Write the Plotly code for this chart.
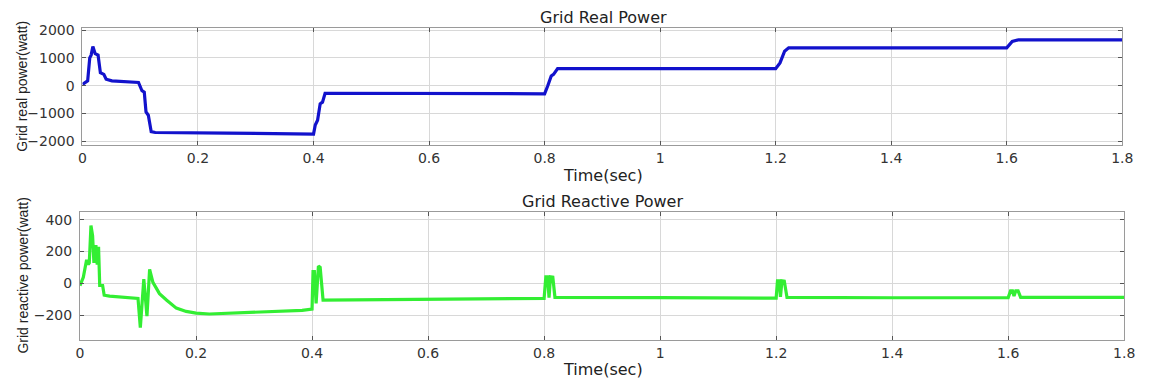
import plotly.graph_objects as go

W, H = 1153, 385

# ---- Grid real power (watt) ----
t_real = [0.0, 0.004, 0.009, 0.0126, 0.015, 0.018, 0.022, 0.027, 0.031, 0.037, 0.041, 0.051,
          0.075, 0.097, 0.103, 0.107, 0.110, 0.114, 0.119, 0.126, 0.25, 0.40,
          0.403, 0.407, 0.4115, 0.4155, 0.420, 0.60, 0.797, 0.800,
          0.8055, 0.8115, 0.8155, 0.8225, 1.0, 1.200,
          1.2075, 1.2115, 1.2155, 1.2225, 1.4, 1.600,
          1.6095, 1.6205, 1.8]
p_real = [50, 120, 175, 1000, 1100, 1410, 1150, 1100, 470, 410, 235, 175,
          150, 118, -180, -230, -940, -1060, -1650, -1680, -1700, -1740,
          -1410, -1240, -650, -590, -270, -275, -280, -290,
          0, 350, 410, 615, 615, 615,
          820, 1000, 1240, 1360, 1360, 1360,
          1590, 1650, 1650]

# ---- Grid reactive power (watt) ----
t_react = [0.0, 0.0057, 0.0114, 0.0143, 0.016, 0.0189, 0.0217, 0.024, 0.0274, 0.0297, 0.032,
           0.034, 0.039, 0.0417, 0.051, 0.10, 0.104, 0.110, 0.1154, 0.120, 0.1257,
           0.137, 0.149, 0.166, 0.183, 0.20, 0.223, 0.269, 0.326, 0.383, 0.400,
           0.4017, 0.404, 0.407, 0.411, 0.414, 0.419, 0.60, 0.800,
           0.803, 0.806, 0.8085, 0.811, 0.815, 0.8187, 1.0, 1.200,
           1.2023, 1.205, 1.2074, 1.210, 1.214, 1.2187, 1.4, 1.600,
           1.604, 1.6074, 1.610, 1.613, 1.617, 1.6215, 1.8]
q_react = [-15, 37, 148, 118, 128, 363, 300, 128, 240, 118, 230,
           -14, -14, -75, -81, -95, -278, 26, -207, 87, 6,
           -65, -105, -156, -177, -187, -193, -187, -177, -170, -162,
           73, 73, -126, 108, 100, -106, -102, -95,
           40, 40, -90, 40, 38, -88, -90, -93,
           16, 16, -85, 16, 14, -89, -91, -90,
           -48, -48, -80, -48, -48, -89, -89]

x_ticks = [0, 0.2, 0.4, 0.6, 0.8, 1.0, 1.2, 1.4, 1.6, 1.8]
x_tick_text = ["0", "0.2", "0.4", "0.6", "0.8", "1", "1.2", "1.4", "1.6", "1.8"]
y1_ticks = [-2000, -1000, 0, 1000, 2000]
y2_ticks = [-200, 0, 200, 400]

FONT = "Liberation Sans, Arial, sans-serif"
WIDE = "DejaVu Sans, sans-serif"

fig = go.Figure()
fig.add_trace(go.Scatter(x=t_real, y=p_real, mode="lines", xaxis="x", yaxis="y",
                         line=dict(color="#1212CC", width=3.2), showlegend=False))
fig.add_trace(go.Scatter(x=t_react, y=q_react, mode="lines", xaxis="x2", yaxis="y2",
                         line=dict(color="#33EE33", width=3.2), showlegend=False))

def px_x(p):
    return p / W

def px_y(p):
    return 1 - p / H

axis_common = dict(showline=True, linecolor="#9a9a9a", linewidth=1, mirror="ticks",
                   ticks="inside", ticklen=4, tickcolor="#555555",
                   showgrid=True, gridcolor="#d8d8d8", gridwidth=1, zeroline=False,
                   tickfont=dict(family=WIDE, size=14, color="#333333"))

fig.update_layout(
    width=W, height=H,
    margin=dict(l=0, r=0, t=0, b=0),
    paper_bgcolor="white", plot_bgcolor="white",
    xaxis=dict(domain=[px_x(79.5), px_x(1133)], range=[0, 1.8], anchor="y",
               tickvals=x_ticks, ticktext=x_tick_text, **axis_common),
    yaxis=dict(domain=[px_y(143), px_y(23)], range=[-2140, 2060], anchor="x",
               tickvals=y1_ticks, ticklabelstandoff=4, **axis_common),
    xaxis2=dict(domain=[px_x(77), px_x(1135)], range=[0, 1.8], anchor="y2",
                tickvals=x_ticks, ticktext=x_tick_text, **axis_common),
    yaxis2=dict(domain=[px_y(343), px_y(212)], range=[-357, 445], anchor="x2",
                tickvals=y2_ticks, ticklabelstandoff=4, **axis_common),
)

ann = [
    dict(text="Grid Real Power", x=px_x(607), y=px_y(12), size=16),
    dict(text="Time(sec)", x=px_x(607), y=px_y(174), size=16),
    dict(text="Grid Reactive Power", x=px_x(606), y=px_y(201), size=16),
    dict(text="Time(sec)", x=px_x(607), y=px_y(373), size=16),
]
for a in ann:
    fig.add_annotation(text=a["text"], x=a["x"], y=a["y"], xref="paper", yref="paper",
                       xanchor="center", yanchor="middle", showarrow=False,
                       font=dict(family=WIDE, size=a["size"], color="#222222"))
for txt, cx, cy in [("Grid real power(watt)", 18, 82), ("Grid reactive power(watt)", 19, 277)]:
    fig.add_annotation(text=txt, x=px_x(cx), y=px_y(cy), xref="paper", yref="paper",
                       xanchor="center", yanchor="middle", showarrow=False, textangle=-90,
                       font=dict(family=FONT, size=14, color="#222222"))

fig.write_html("out.html")
